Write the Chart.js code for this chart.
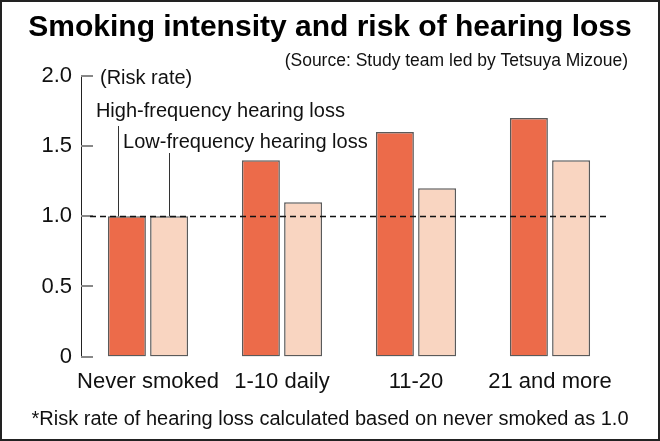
<!DOCTYPE html>
<html>
<head>
<meta charset="utf-8">
<script src="https://cdn.jsdelivr.net/npm/chart.js@4"></script>
<style>
  html, body { margin: 0; padding: 0; background: #fff; }
  #frame { width: 660px; height: 441px; box-sizing: border-box; border: 2px solid #222; }
  canvas { display: block; }
</style>
</head>
<body>
<div id="frame"><canvas id="chart" width="656" height="437"></canvas></div>
<script>
// data
const categories = ['Never smoked', '1-10 daily', '11-20', '21 and more'];
const highFreq = [1.0, 1.4, 1.6, 1.7];
const lowFreq = [1.0, 1.1, 1.2, 1.4];
const seriesNames = ['High-frequency hearing loss', 'Low-frequency hearing loss'];
const referenceValue = 1.0;

const titleText = 'Smoking intensity and risk of hearing loss';
const sourceText = '(Source: Study team led by Tetsuya Mizoue)';
const footnoteText = '*Risk rate of hearing loss calculated based on never smoked as 1.0';
const unitText = '(Risk rate)';

const FONT = '"Liberation Sans", Arial, sans-serif';
Chart.defaults.font.family = FONT;
Chart.defaults.color = '#111';

// dashed 1.0 line, inward tick marks, series labels with leader lines
const annotations = {
  id: 'annotations',
  afterDatasetsDraw(chart) {
    const {ctx, chartArea, scales: {y}} = chart;
    ctx.save();

    // tick marks pointing into the plot
    ctx.strokeStyle = '#888';
    ctx.lineWidth = 2;
    y.ticks.forEach(t => {
      const py = Math.round(y.getPixelForValue(t.value));
      ctx.beginPath();
      ctx.moveTo(chartArea.left, py);
      ctx.lineTo(chartArea.left + 12, py);
      ctx.stroke();
    });

    // reference line
    const ry = Math.round(y.getPixelForValue(referenceValue)) + 0.5;
    ctx.strokeStyle = '#111';
    ctx.lineWidth = 1.5;
    ctx.setLineDash([6, 4]);
    ctx.beginPath();
    ctx.moveTo(chartArea.left + 9, ry);
    ctx.lineTo(chartArea.right - 7, ry);
    ctx.stroke();
    ctx.setLineDash([]);

    // leader lines to the first pair of bars
    const hi = chart.getDatasetMeta(0).data[0];
    const lo = chart.getDatasetMeta(1).data[0];
    ctx.strokeStyle = '#333';
    ctx.lineWidth = 1;
    ctx.beginPath();
    ctx.moveTo(Math.round(hi.x - 9) + 0.5, chartArea.top + 50);
    ctx.lineTo(Math.round(hi.x - 9) + 0.5, hi.y);
    ctx.moveTo(Math.round(lo.x) + 0.5, chartArea.top + 77);
    ctx.lineTo(Math.round(lo.x) + 0.5, lo.y);
    ctx.stroke();

    ctx.fillStyle = '#111';
    ctx.textBaseline = 'middle';
    ctx.textAlign = 'left';
    ctx.font = '20px ' + FONT;
    ctx.fillText(unitText, chartArea.left + 19, chartArea.top + 2);
    ctx.fillText(seriesNames[0], hi.x - 31, chartArea.top + 35);
    ctx.fillText(seriesNames[1], lo.x - 46, chartArea.top + 66);

    // source line, right aligned
    ctx.textAlign = 'right';
    ctx.font = '17.5px ' + FONT;
    ctx.fillText(sourceText, chart.width - 30, 59.5);
    ctx.restore();
  }
};

new Chart(document.getElementById('chart'), {
  type: 'bar',
  data: {
    labels: categories,
    datasets: [
      {
        label: seriesNames[0],
        data: highFreq,
        backgroundColor: '#ec6b4a',
        borderColor: '#5a5a5a',
        borderWidth: 1.5,
        borderSkipped: false,
        categoryPercentage: 0.63,
        barPercentage: 0.9
      },
      {
        label: seriesNames[1],
        data: lowFreq,
        backgroundColor: '#f9d5c1',
        borderColor: '#5a5a5a',
        borderWidth: 1.5,
        borderSkipped: false,
        categoryPercentage: 0.63,
        barPercentage: 0.9
      }
    ]
  },
  options: {
    responsive: false,
    animation: false,
    layout: { padding: 0 },
    plugins: {
      legend: { display: false },
      tooltip: { enabled: false },
      title: {
        display: true,
        text: titleText,
        color: '#000',
        font: { size: 30, weight: 'bold' },
        padding: { top: 8, bottom: 30 }
      },
      subtitle: {
        display: true,
        position: 'bottom',
        text: footnoteText,
        color: '#111',
        font: { size: 20 },
        padding: { top: 0, bottom: 8 }
      }
    },
    scales: {
      x: {
        grid: { display: false, drawTicks: false },
        border: { display: false },
        ticks: {
          font: { size: 22 },
          color: '#111',
          padding: 12,
          autoSkip: false,
          minRotation: 0,
          maxRotation: 0
        }
      },
      y: {
        min: 0,
        max: 2,
        grid: { display: false, drawTicks: false },
        border: { display: true, color: '#222', width: 1 },
        ticks: {
          stepSize: 0.5,
          padding: 9,
          font: { size: 22 },
          color: '#111',
          callback: v => v === 0 ? '0' : v.toFixed(1)
        },
        afterFit: scale => { scale.width = 79; }
      },
      // empty axis on the right, only to keep the plot off the frame
      spacer: {
        position: 'right',
        grid: { display: false, drawTicks: false },
        border: { display: false },
        ticks: { display: false },
        afterFit: scale => { scale.width = 41; }
      }
    }
  },
  plugins: [annotations]
});
</script>
</body>
</html>
